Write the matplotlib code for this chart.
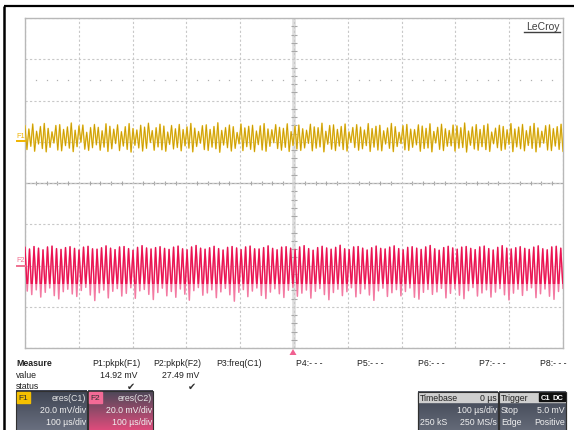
import numpy as np
import matplotlib
matplotlib.use('Agg')
import matplotlib.pyplot as plt
from matplotlib.patches import Rectangle, Polygon

# ---------------- data (mV) ----------------
F1_HIGH = [27.8, 26.2, 28.6, 25.1, 27.4, 28.9, 26.5, 24.8, 27.9, 28.3, 26.0, 27.2, 29.1, 25.6, 27.7, 28.1, 24.6, 26.9, 28.4, 27.0,
           25.3, 28.7, 27.5, 26.1, 28.2, 24.9, 27.3, 28.8, 26.4, 25.7, 28.0, 27.1, 29.0, 25.4, 26.8, 28.5, 27.6, 24.7, 27.9, 26.3,
           28.4, 25.9, 27.2, 28.9, 26.6, 25.0, 27.8, 28.2, 26.0, 27.4, 29.2, 25.5, 26.9, 28.1, 27.3, 24.5, 28.6, 26.7, 27.5, 28.0,
           25.2, 27.7, 28.8, 26.2, 25.8, 28.3, 27.0, 26.5, 28.7, 24.9, 27.6, 28.1, 26.3, 25.6, 28.5, 27.2, 26.8, 29.0, 25.1, 27.9,
           28.2, 26.0, 27.4, 28.6, 24.8, 26.9, 28.3, 27.1, 25.7, 28.8, 26.4, 27.5, 28.0, 25.3, 26.7, 28.9, 27.3, 24.6, 27.8, 28.4,
           26.1, 25.9, 28.2, 27.6, 26.5, 28.7, 25.0, 27.0, 28.5, 26.3, 25.5, 28.1, 27.7, 26.8, 29.1, 25.2, 27.2, 28.3, 26.0, 27.9,
           28.6, 24.7, 26.6, 28.0, 27.4, 25.8, 28.8, 26.2, 27.1, 28.4, 25.4, 27.5, 28.9, 26.7, 25.1, 27.8, 28.2, 26.4, 27.3, 28.5]
F1_LOW = [16.2, 17.8, 15.4, 18.9, 16.7, 15.1, 17.3, 19.4, 16.0, 15.6, 18.1, 16.9, 15.2, 17.6, 19.8, 16.4, 15.8, 17.1, 18.5, 15.9,
          17.4, 15.3, 16.6, 19.1, 15.7, 17.9, 16.3, 15.0, 18.3, 17.0, 15.5, 16.8, 19.6, 15.9, 17.5, 16.1, 15.4, 18.7, 16.5, 17.2,
          15.6, 18.0, 16.9, 15.1, 17.7, 19.3, 16.2, 15.8, 17.4, 16.6, 14.9, 18.4, 17.1, 15.5, 16.8, 19.0, 15.7, 17.6, 16.3, 15.2,
          18.6, 16.0, 15.4, 17.8, 19.5, 16.7, 15.9, 17.3, 15.3, 18.2, 16.5, 15.8, 17.0, 19.2, 15.6, 16.9, 17.5, 15.1, 18.8, 16.4,
          15.7, 17.9, 16.2, 15.5, 19.7, 17.2, 15.9, 16.6, 18.1, 15.3, 17.4, 16.0, 15.6, 18.9, 16.8, 15.2, 17.7, 19.1, 16.1, 15.8,
          17.3, 18.5, 15.4, 16.7, 17.0, 15.1, 19.4, 16.3, 15.7, 17.8, 18.0, 15.5, 16.9, 17.2, 15.0, 18.3, 16.5, 15.9, 17.6, 16.2,
          15.3, 19.0, 17.1, 15.8, 16.4, 18.7, 15.2, 17.5, 16.6, 15.6, 18.2, 16.8, 15.1, 17.4, 19.3, 16.0, 15.7, 17.9, 16.3, 15.4]
F2_HIGH = [-31.2, -32.0, -30.8, -31.6, -32.4, -31.0, -30.6, -31.8, -32.2, -31.3, -30.9, -31.7, -32.5, -31.1, -30.7, -31.9, -32.1, -31.4, -30.5, -31.6,
           -32.3, -31.0, -30.8, -31.8, -32.6, -31.2, -30.4, -31.5, -32.0, -31.3, -30.9, -31.7, -32.2, -31.1, -30.6, -31.9, -32.4, -31.0, -30.3, -31.6,
           -32.1, -31.4, -30.7, -31.8, -32.5, -31.2, -30.8, -31.5, -32.3, -31.0, -30.6, -31.9, -32.0, -31.3, -30.5, -31.7, -32.4, -31.1, -30.9, -31.6,
           -32.2, -31.0, -30.4, -31.8, -32.6, -31.3, -30.7, -31.5, -32.1, -31.2, -30.2, -31.9, -32.3, -31.0, -30.8, -31.6, -32.5, -31.4, -30.6, -31.7,
           -32.0, -31.1, -30.5, -31.8, -32.4, -31.2, -30.9, -31.6, -32.2, -31.0, -30.3, -31.9, -32.6, -31.3, -30.7, -31.5, -32.1, -31.1, -30.8, -31.7,
           -32.3, -31.0, -30.6, -31.8, -32.5, -31.2, -30.4, -31.6, -32.0, -31.4, -30.9, -31.7, -32.2, -31.1, -30.5, -31.9, -32.4, -31.0, -30.7, -31.6]
F2_LOW = [-52.4, -54.1, -51.8, -55.3, -53.0, -50.9, -54.6, -56.2, -52.7, -51.5, -53.8, -55.0, -52.1, -50.6, -54.3, -57.0, -53.2, -51.9, -55.7, -52.5,
          -51.2, -54.8, -53.5, -50.8, -55.9, -52.3, -51.6, -54.0, -56.5, -53.1, -51.0, -54.7, -52.6, -55.4, -51.4, -53.9, -56.8, -52.2, -50.7, -54.4,
          -53.3, -51.8, -55.6, -52.8, -51.1, -54.2, -57.3, -53.0, -51.7, -55.1, -52.4, -50.9, -54.5, -56.0, -52.9, -51.3, -53.7, -55.5, -52.0, -50.6,
          -54.9, -53.4, -51.9, -55.8, -52.5, -51.2, -54.1, -56.6, -53.1, -51.5, -54.6, -52.7, -50.8, -55.2, -53.6, -51.4, -54.3, -56.9, -52.3, -51.0,
          -55.0, -53.2, -51.7, -54.7, -52.6, -50.9, -55.4, -56.3, -53.0, -51.6, -54.0, -52.8, -51.1, -55.7, -53.5, -51.3, -54.4, -56.1, -52.2, -50.7,
          -54.8, -53.3, -51.8, -55.3, -52.9, -51.2, -54.2, -56.7, -53.4, -51.5, -54.5, -52.1, -50.8, -55.6, -53.7, -51.4, -54.9, -56.4, -52.6, -51.0]
MEAS_NAMES = ["P1:pkpk(F1)", "P2:pkpk(F2)", "P3:freq(C1)", "P4:- - -", "P5:- - -", "P6:- - -", "P7:- - -", "P8:- - -"]
MEAS_VALUES = ["14.92 mV", "27.49 mV"]

W, H = 574, 431
FONT = 'Liberation Sans'
plt.rcParams['font.family'] = [FONT, 'DejaVu Sans']

fig = plt.figure(figsize=(W / 100, H / 100), dpi=100, facecolor='white')
ax = fig.add_axes([25 / W, (H - 349) / H, 538 / W, 330 / H])
ax.set_facecolor('white')
ax.set_xlim(-500, 500)
ax.set_ylim(-80, 80)
ax.set_xticks(np.arange(-500, 501, 100))
ax.set_yticks(np.arange(-80, 81, 20))
ax.tick_params(length=0, labelbottom=False, labelleft=False)
ax.grid(True, color='#c8c8c8', ls=(0, (2, 2)), lw=0.8, zorder=0)
for s in ax.spines.values():
    s.set_color('#b8b8b8')
    s.set_linewidth(1.0)
ax.axvline(0, color='#dedede', lw=2.6, zorder=1)
ax.axhline(0, color='#a8a8a8', lw=0.9, zorder=1)
minor_x = [x for x in np.arange(-480, 500, 20) if x % 100]
ax.vlines(minor_x, -1.2, 1.2, color='#a8a8a8', lw=0.8, zorder=1)
minor_y = [y for y in np.arange(-76, 80, 4) if y % 20]
ax.hlines(minor_y, -6, 6, color='#a8a8a8', lw=0.8, zorder=1)
ax.plot(minor_x, [50] * len(minor_x), ls='none', marker='s', ms=0.9, mew=0, color='#b0b0b0', zorder=1)

# traces
y1 = np.column_stack([F1_HIGH, F1_LOW]).ravel()
t1 = np.linspace(-500, 500, len(y1))
ax.plot(t1, y1, color='#f6d55e', lw=1.1, zorder=3)
ax.plot(t1, y1, color='#c99a00', lw=0.6, zorder=4)
y2 = np.column_stack([F2_HIGH, F2_LOW]).ravel()
t2 = np.linspace(-500, 500, len(y2))
ax.plot(t2, y2, color='#f37aa2', lw=1.1, zorder=3)
dark2, = ax.plot(t2, y2, color='#ea1250', lw=0.9, zorder=4)
dark2.set_clip_path(Rectangle((-500, -49), 1000, 44, transform=ax.transData))

# ---------------- overlay (pixel coordinates) ----------------
ov = fig.add_axes([0, 0, 1, 1], facecolor='none')
ov.set_xlim(0, W)
ov.set_ylim(H, 0)
ov.axis('off')

# outer frame
ov.plot([3.5, W], [7, 7], color='black', lw=1.6, solid_capstyle='butt')
ov.plot([3.5, 3.5], [7, H], color='black', lw=1.8, solid_capstyle='butt')

# LeCroy logo
ov.text(560, 27, "LeCroy", ha='right', va='center', fontsize=7.5, color='#404040')
ov.plot([524, 560], [32.5, 32.5], color='#404040', lw=1.0)

# channel markers
ov.text(16.5, 136.5, "F1", fontsize=5.2, color='#f0b400', ha='left', va='center')
ov.plot([17, 25], [141.7, 141.7], color='#f0b400', lw=1.4)
ov.text(16.5, 261, "F2", fontsize=5.2, color='#f07090', ha='left', va='center')
ov.plot([17, 25], [266.7, 266.7], color='#f07090', lw=1.4)

# trigger marker
ov.add_patch(Polygon([[289.5, 356], [296.5, 356], [293, 350]], closed=True, color='#f06090', lw=0))

# measure table
fs = 6.3
ov.text(16, 364, "Measure", fontsize=fs, fontweight='bold', va='center', color='#202020')
ov.text(16, 375.5, "value", fontsize=fs, va='center', color='#202020')
ov.text(16, 387, "status", fontsize=fs, va='center', color='#202020')
name_x = [92, 153, 216, 296, 357, 418, 479, 540]
for nx, name in zip(name_x, MEAS_NAMES):
    ov.text(nx, 364, name, fontsize=fs, va='center', color='#202020')
val_x = [138, 199]
for vx, val in zip(val_x, MEAS_VALUES):
    ov.text(vx, 375.5, val, fontsize=fs, va='center', ha='right', color='#202020')
    ov.text(vx - 7, 387, "\u2714", fontsize=7, va='center', ha='center', color='#303030', family='DejaVu Sans')


def gradient_box(x0, x1, y0, y1, c_top, c_bot, edge='#303030'):
    ct = np.array(matplotlib.colors.to_rgb(c_top))
    cb = np.array(matplotlib.colors.to_rgb(c_bot))
    f = np.linspace(0, 1, 32)[:, None, None]
    img = ct[None, None, :] * (1 - f) + cb[None, None, :] * f
    ov.imshow(img, extent=[x0, x1, y1, y0], aspect='auto', zorder=2, interpolation='bilinear')
    ov.add_patch(Rectangle((x0, y0), x1 - x0, y1 - y0, fill=False, ec=edge, lw=0.8, zorder=3))


# F1 / F2 descriptor boxes
gradient_box(16, 87, 392, 432, '#3e4452', '#6a7080')
ov.add_patch(Rectangle((17, 393), 12.5, 11, color='#f5c000', zorder=4))
ov.text(23.2, 398.7, "F1", fontsize=6, ha='center', va='center', color='#303030', zorder=5)
gradient_box(88, 153, 392, 432, '#4a4858', '#e04c7c')
ov.add_patch(Rectangle((89, 393), 12.5, 11, color='#f26a96', zorder=4))
ov.text(95.2, 398.7, "F2", fontsize=6, ha='center', va='center', color='#303030', zorder=5)
for bx, src in [(86, "eres(C1)"), (152, "eres(C2)")]:
    ov.text(bx, 398.5, src, fontsize=fs, ha='right', va='center', color='#e6e6e6', zorder=5)
    ov.text(bx, 410.5, "20.0 mV/div", fontsize=fs, ha='right', va='center', color='#f0f0f0', zorder=5)
    ov.text(bx, 422.5, "100 \u00b5s/div", fontsize=fs, ha='right', va='center', color='#f0f0f0', zorder=5)

# Timebase box
gradient_box(418, 498, 393, 432, '#3e4452', '#646a78')
ov.add_patch(Rectangle((418, 393), 80, 10, color='#cfcfcf', zorder=4))
ov.add_patch(Rectangle((418, 393), 80, 39, fill=False, ec='#303030', lw=0.8, zorder=5))
ov.text(420, 398.3, "Timebase", fontsize=fs, va='center', color='#202020', zorder=6)
ov.text(497, 398.3, "0 \u00b5s", fontsize=fs, va='center', ha='right', color='#202020', zorder=6)
ov.text(497, 411, "100 \u00b5s/div", fontsize=fs, va='center', ha='right', color='#f0f0f0', zorder=6)
ov.text(419.5, 423, "250 kS", fontsize=fs, va='center', color='#f0f0f0', zorder=6)
ov.text(497, 423, "250 MS/s", fontsize=fs, va='center', ha='right', color='#f0f0f0', zorder=6)

# Trigger box
gradient_box(499, 566, 393, 432, '#3e4452', '#646a78')
ov.add_patch(Rectangle((499, 393), 67, 10, color='#cfcfcf', zorder=4))
ov.add_patch(Rectangle((499, 393), 67, 39, fill=False, ec='#303030', lw=0.8, zorder=5))
ov.text(501, 398.3, "Trigger", fontsize=fs, va='center', color='#202020', zorder=6)
ov.add_patch(Rectangle((539, 394), 26, 8.5, color='#101010', zorder=6))
ov.text(545.5, 398.3, "C1", fontsize=5.5, va='center', ha='center', color='white', fontweight='bold', zorder=7)
ov.text(558, 398.3, "DC", fontsize=5.5, va='center', ha='center', color='white', fontweight='bold', zorder=7)
ov.text(501, 411, "Stop", fontsize=fs, va='center', color='#f0f0f0', zorder=6)
ov.text(565, 411, "5.0 mV", fontsize=fs, va='center', ha='right', color='#f0f0f0', zorder=6)
ov.text(501, 423, "Edge", fontsize=fs, va='center', color='#f0f0f0', zorder=6)
ov.text(565, 423, "Positive", fontsize=fs, va='center', ha='right', color='#f0f0f0', zorder=6)

ov.set_xlim(0, W)
ov.set_ylim(H, 0)
fig.savefig("out.png", dpi=100, facecolor='white')
